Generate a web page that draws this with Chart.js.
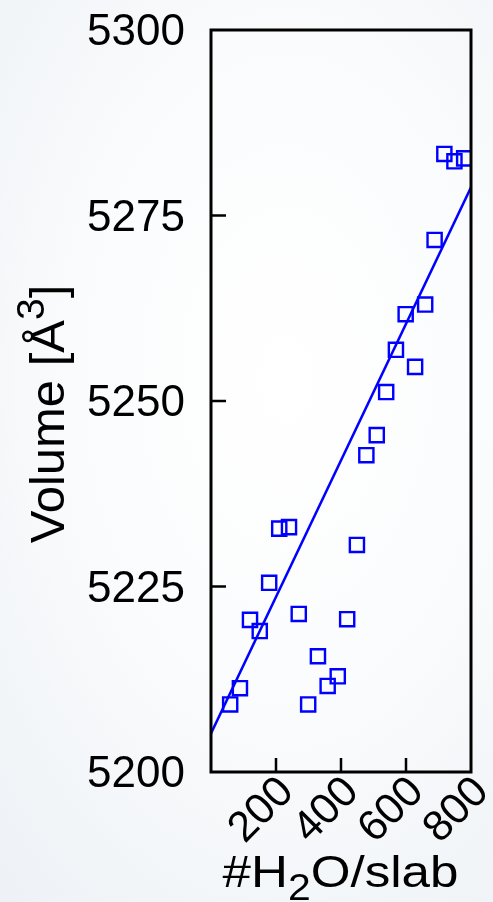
<!DOCTYPE html>
<html>
<head>
<meta charset="utf-8">
<style>
html, body { margin: 0; padding: 0; width: 493px; height: 902px; overflow: hidden; }
body { background: radial-gradient(ellipse 85% 75% at 58% 42%, #ffffff 0%, #fbfcfd 45%, #eef2f6 100%); }
#wrap { position: relative; width: 493px; height: 902px; }
canvas { display: block; }
</style>
<script src="https://cdn.jsdelivr.net/npm/chart.js@4.4.0/dist/chart.umd.min.js"></script>
</head>
<body>
<div id="wrap"><canvas id="c" width="493" height="902"></canvas></div>
<script>
// ---- data ----
const waterCounts = [718, 749, 779, 688, 659, 599, 569, 628, 539, 510, 478, 210, 240, 449, 179, 120, 150, 270, 419, 329, 390, 359, 89, 59, 299];
const volumes     = [5283.3, 5282.3, 5282.7, 5271.7, 5263.0, 5261.7, 5256.9, 5254.6, 5251.2, 5245.4, 5242.7, 5232.8, 5233.0, 5230.6, 5225.5, 5220.5, 5219.0, 5221.3, 5220.6, 5215.6, 5212.9, 5211.6, 5211.3, 5209.1, 5209.1];
const fitX = [0, 800];
const fitVolume = [5205.2, 5278.8];
const xTickValues = [200, 400, 600, 800];
const yTickValues = [5200, 5225, 5250, 5275, 5300];
const innerTicksX = [200, 400, 600];
const innerTicksY = [5225, 5250, 5275];
const xTitleParts = [["#H", "normal"], ["2", "sub"], ["O/slab", "normal"]];
const yTitleParts = [["Volume [Å", "normal"], ["3", "sup"], ["]", "normal"]];

const FONT = "'Liberation Sans', Arial, Helvetica, sans-serif";
const BLUE = "rgb(0,0,255)";

const framePlugin = {
  id: 'frame',
  afterDraw(chart) {
    const ctx = chart.ctx;
    const a = chart.chartArea;
    const xs = chart.scales.x, ys = chart.scales.y;
    ctx.save();
    // inward tick marks
    ctx.strokeStyle = '#000';
    ctx.lineWidth = 2.5;
    ctx.beginPath();
    innerTicksY.forEach(v => {
      const py = ys.getPixelForValue(v);
      ctx.moveTo(a.left, py); ctx.lineTo(a.left + 15, py);
    });
    innerTicksX.forEach(v => {
      const px = xs.getPixelForValue(v);
      ctx.moveTo(px, a.bottom); ctx.lineTo(px, a.bottom - 14);
    });
    ctx.stroke();
    // frame
    ctx.lineWidth = 3;
    ctx.strokeRect(a.left, a.top, a.right - a.left, a.bottom - a.top);

    // y title (rotated, with superscript)
    ctx.fillStyle = '#000';
    ctx.textBaseline = 'alphabetic';
    ctx.textAlign = 'left';
    const yMain = "49px " + FONT, ySup = "39px " + FONT;
    let total = 0;
    const yw = yTitleParts.map(([t, r]) => { ctx.font = r === 'sup' ? ySup : yMain; const w = ctx.measureText(t).width; total += w; return w; });
    ctx.save();
    ctx.translate(63.5, 414);
    ctx.rotate(-Math.PI / 2);
    let cx = -total / 2;
    yTitleParts.forEach(([t, r], i) => {
      ctx.font = r === 'sup' ? ySup : yMain;
      ctx.fillText(t, cx, r === 'sup' ? -20 : 0);
      cx += yw[i];
    });
    ctx.restore();

    // x title (with subscript)
    const xMain = "45px " + FONT, xSub = "36px " + FONT;
    total = 0;
    const xw = xTitleParts.map(([t, r]) => { ctx.font = r === 'sub' ? xSub : xMain; const w = ctx.measureText(t).width; total += w; return w; });
    const sx = 236 / total;
    ctx.save();
    ctx.translate(340.5, 887);
    ctx.scale(sx, 1);
    cx = -total / 2;
    xTitleParts.forEach(([t, r], i) => {
      ctx.font = r === 'sub' ? xSub : xMain;
      ctx.fillText(t, cx, r === 'sub' ? 13 : 0);
      cx += xw[i];
    });
    ctx.restore();
    ctx.restore();
  }
};

new Chart(document.getElementById('c'), {
  type: 'scatter',
  data: {
    datasets: [
      {
        type: 'line',
        data: fitX.map((x, i) => ({ x, y: fitVolume[i] })),
        borderColor: BLUE,
        borderWidth: 2.5,
        pointRadius: 0,
        fill: false,
        order: 2
      },
      {
        type: 'scatter',
        data: waterCounts.map((x, i) => ({ x, y: volumes[i] })),
        pointStyle: 'rect',
        pointRadius: 10,
        pointBorderWidth: 2.4,
        borderColor: BLUE,
        backgroundColor: 'rgba(0,0,0,0)',
        order: 1
      }
    ]
  },
  options: {
    responsive: false,
    animation: false,
    devicePixelRatio: 1,
    layout: { padding: { top: 30, right: 22, left: 0, bottom: 0 } },
    plugins: { legend: { display: false }, tooltip: { enabled: false } },
    scales: {
      x: {
        type: 'linear', min: 0, max: 800,
        afterBuildTicks: s => { s.ticks = xTickValues.map(v => ({ value: v })); },
        afterFit: s => { s.height = 130; s.paddingLeft = 0; s.paddingRight = 0; },
        grid: { display: false, drawTicks: false },
        border: { display: false },
        ticks: {
          autoSkip: false, minRotation: 45, maxRotation: 45,
          padding: -5, labelOffset: 11, color: '#000',
          font: { family: FONT, size: 43 },
          callback: v => String(v)
        }
      },
      y: {
        type: 'linear', min: 5200, max: 5300,
        afterBuildTicks: s => { s.ticks = yTickValues.map(v => ({ value: v })); },
        afterFit: s => { s.width = 211; s.paddingTop = 0; s.paddingBottom = 0; },
        grid: { display: false, drawTicks: false },
        border: { display: false },
        ticks: {
          padding: 26, labelOffset: 3, color: '#000',
          font: { family: FONT, size: 44 },
          callback: v => String(v)
        }
      }
    }
  },
  plugins: [framePlugin]
});
</script>
</body>
</html>
